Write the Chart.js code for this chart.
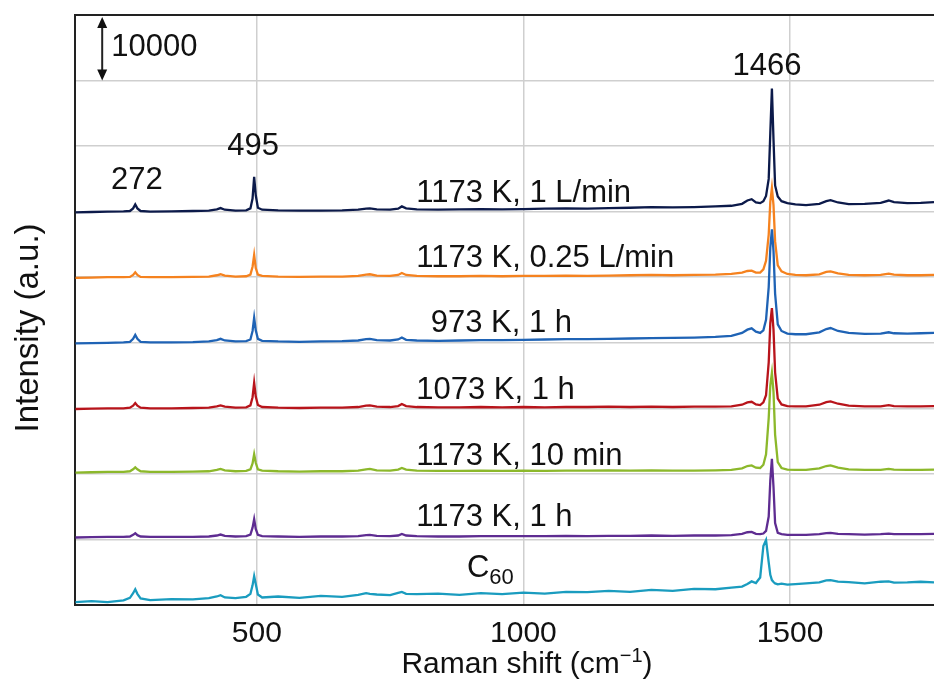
<!DOCTYPE html>
<html>
<head>
<meta charset="utf-8">
<script src="https://cdn.jsdelivr.net/npm/chart.js@4.4.1/dist/chart.umd.min.js"></script>
<style>
  html, body { margin: 0; padding: 0; background: #fff; overflow: hidden; }
  canvas { display: block; }
</style>
</head>
<body>
<canvas id="c" width="934" height="689"></canvas>
<script>
// ===== data (intensity in units of 1000 counts, spectra already stacked) =====
const shift = [160,190,220,250,262,268,272,276,282,300,
  340,380,410,425,432,440,460,480,488,492,
  495,498,502,510,540,580,620,660,690,705,
  712,725,750,765,772,780,800,840,880,920,
  960,1000,1040,1080,1120,1160,1200,1240,1280,1320,
  1360,1390,1410,1420,1428,1436,1444,1450,1455,1460,
  1463,1466,1469,1472,1477,1484,1495,1510,1530,1555,
  1568,1576,1590,1610,1640,1670,1685,1695,1720,1745,1770];

const s1173_1Lmin = [59.9,59.95,60.0,60.05,60.1,60.5,61.1,60.5,60.1,60.0,
  60.05,60.1,60.15,60.35,60.55,60.3,60.15,60.2,60.5,62.0,
  65.3,62.5,60.6,60.3,60.2,60.15,60.15,60.2,60.3,60.45,
  60.5,60.35,60.3,60.45,60.8,60.5,60.35,60.3,60.35,60.4,
  60.35,60.4,60.45,60.5,60.45,60.55,60.6,60.7,60.65,60.7,
  60.8,60.9,61.2,61.7,61.9,61.4,61.3,61.6,62.4,65.0,
  72.0,78.8,71.0,64.0,62.3,61.6,61.3,61.1,61.0,61.2,
  61.6,61.75,61.4,61.15,61.2,61.35,61.7,61.45,61.3,61.35,61.45];

const s1173_025Lmin = [49.9,49.95,50.0,50.0,50.05,50.35,50.75,50.35,50.05,50.0,
  50.0,50.05,50.1,50.3,50.45,50.25,50.1,50.15,50.4,51.6,
  53.4,51.4,50.4,50.2,50.1,50.05,50.1,50.1,50.2,50.4,
  50.45,50.25,50.2,50.35,50.65,50.35,50.2,50.15,50.15,50.2,
  50.15,50.2,50.2,50.25,50.2,50.25,50.3,50.35,50.3,50.35,
  50.4,50.5,50.7,50.95,51.0,50.7,50.7,51.2,52.5,56.5,
  61.5,63.6,61.0,55.5,51.8,50.9,50.5,50.35,50.3,50.45,
  50.8,50.9,50.6,50.35,50.3,50.35,50.55,50.4,50.3,50.3,50.35];

const s973_1h = [39.9,39.95,40.0,40.05,40.15,40.6,41.2,40.6,40.15,40.05,
  40.05,40.1,40.2,40.4,40.6,40.35,40.2,40.25,40.5,41.8,
  43.8,41.9,40.6,40.3,40.2,40.15,40.2,40.25,40.35,40.55,
  40.6,40.4,40.35,40.5,40.8,40.45,40.35,40.3,40.35,40.4,
  40.4,40.45,40.5,40.55,40.55,40.6,40.65,40.7,40.75,40.8,
  40.9,41.05,41.5,42.0,42.2,41.7,41.5,41.9,43.5,48.5,
  54.5,57.3,54.0,47.5,42.8,41.8,41.4,41.3,41.3,41.6,
  42.1,42.25,41.8,41.5,41.35,41.4,41.6,41.45,41.4,41.45,41.5];

const s1073_1h = [29.9,29.95,30.0,30.0,30.1,30.4,30.8,30.4,30.1,30.0,
  30.0,30.05,30.1,30.3,30.45,30.25,30.1,30.15,30.45,31.7,
  33.9,31.8,30.5,30.2,30.1,30.05,30.1,30.1,30.2,30.4,
  30.45,30.25,30.2,30.35,30.65,30.35,30.2,30.15,30.15,30.2,
  30.15,30.2,30.15,30.2,30.2,30.25,30.2,30.25,30.2,30.25,
  30.25,30.3,30.55,30.9,31.0,30.6,30.5,30.9,32.0,37.0,
  43.0,45.3,42.0,35.5,31.5,30.6,30.35,30.3,30.3,30.55,
  30.95,31.05,30.7,30.4,30.3,30.3,30.5,30.35,30.3,30.3,30.35];

const s1173_10min = [20.2,20.25,20.3,20.3,20.4,20.7,21.0,20.7,20.4,20.3,
  20.3,20.35,20.4,20.6,20.75,20.55,20.4,20.45,20.7,21.6,
  23.0,21.7,20.7,20.5,20.4,20.35,20.4,20.4,20.5,20.7,
  20.75,20.55,20.5,20.65,20.9,20.65,20.5,20.45,20.45,20.5,
  20.45,20.5,20.45,20.5,20.5,20.55,20.5,20.55,20.5,20.5,
  20.55,20.6,20.85,21.2,21.3,20.95,20.9,21.4,23.0,28.5,
  33.5,35.4,32.5,26.0,21.8,20.9,20.65,20.6,20.6,20.85,
  21.2,21.3,20.95,20.7,20.6,20.6,20.75,20.65,20.6,20.6,20.65];

const s1173_1h = [10.3,10.35,10.4,10.4,10.45,10.7,10.95,10.65,10.45,10.4,
  10.4,10.4,10.45,10.6,10.75,10.55,10.45,10.5,10.75,11.8,
  13.1,11.6,10.7,10.5,10.45,10.4,10.45,10.45,10.5,10.65,
  10.7,10.55,10.5,10.6,10.85,10.6,10.5,10.45,10.45,10.5,
  10.5,10.5,10.5,10.55,10.5,10.55,10.55,10.6,10.55,10.6,
  10.6,10.65,10.85,11.1,11.15,10.85,10.8,10.9,11.3,13.5,
  19.0,22.3,18.0,12.5,11.0,10.8,10.7,10.7,10.7,10.8,
  10.95,11.0,10.85,10.8,10.75,10.8,10.9,10.8,10.8,10.8,10.85];

const sC60 = [0.45,0.6,0.45,0.7,1.1,1.8,2.4,1.7,1.0,0.75,
  0.9,0.85,1.05,1.3,1.5,1.15,1.05,1.25,1.7,3.0,
  4.4,3.2,1.6,1.15,1.3,1.1,1.4,1.25,1.55,1.8,
  1.7,1.6,1.5,1.85,2.0,1.7,1.65,1.75,1.55,1.8,
  1.65,1.9,1.75,2.0,1.95,2.15,2.0,2.3,2.15,2.45,
  2.4,2.65,2.8,3.2,3.6,3.35,4.2,9.0,9.9,6.5,
  4.6,3.8,3.5,3.3,3.15,3.25,3.1,3.2,3.3,3.45,
  3.75,3.8,3.55,3.5,3.3,3.55,3.6,3.4,3.45,3.55,3.45];

const xTicks = [500, 1000, 1500];

// bottom trace first so the lower spectra sit on top of the upper ones
const series = [
  { name: "C60",                 data: sC60,          color: "#1a9cbf" },
  { name: "1173 K, 1 h",         data: s1173_1h,      color: "#5e2c91" },
  { name: "1173 K, 10 min",      data: s1173_10min,   color: "#8cb82b" },
  { name: "1073 K, 1 h",         data: s1073_1h,      color: "#b8141b" },
  { name: "973 K, 1 h",          data: s973_1h,       color: "#1f63b5" },
  { name: "1173 K, 0.25 L/min",  data: s1173_025Lmin, color: "#f5821f" },
  { name: "1173 K, 1 L/min",     data: s1173_1Lmin,   color: "#0c1a4a" }
];

// text labels: [text, x (cm-1), y (k counts)]
const traceLabels = [
  ["1173 K, 1 L/min", 799, 62.8],
  ["1173 K, 0.25 L/min", 799, 52.8],
  ["973 K, 1 h", 826, 43.0],
  ["1073 K, 1 h", 799, 32.8],
  ["1173 K, 10 min", 799, 22.6],
  ["1173 K, 1 h", 799, 13.4]
];
const peakLabels = [["272", 275, 64.7], ["495", 493, 70.0], ["1466", 1457, 82.2]];

const FONT = "'Liberation Sans', Arial, Helvetica, sans-serif";

// ===== extra drawing: frame top, labels, scale bar, axis titles =====
const annotate = {
  id: "annotate",
  afterDatasetsDraw(chart) {
    const { ctx, chartArea: a, scales: { x, y } } = chart;
    ctx.save();
    // top frame line
    ctx.strokeStyle = "#222"; ctx.lineWidth = 2;
    ctx.beginPath(); ctx.moveTo(a.left, a.top); ctx.lineTo(a.right, a.top); ctx.stroke();

    ctx.fillStyle = "#111";
    ctx.textBaseline = "middle";
    ctx.font = "31px " + FONT;
    ctx.textAlign = "left";
    traceLabels.forEach(l => ctx.fillText(l[0], x.getPixelForValue(l[1]), y.getPixelForValue(l[2])));
    ctx.textAlign = "center";
    peakLabels.forEach(l => ctx.fillText(l[0], x.getPixelForValue(l[1]), y.getPixelForValue(l[2])));

    // C60 with subscript
    ctx.textAlign = "left";
    const cx = x.getPixelForValue(894), cy = y.getPixelForValue(5.6);
    ctx.fillText("C", cx, cy);
    const cw = ctx.measureText("C").width;
    ctx.font = "22px " + FONT;
    ctx.fillText("60", cx + cw, cy + 10);

    // scale bar 10000
    const bx = x.getPixelForValue(210);
    const b0 = y.getPixelForValue(80), b1 = y.getPixelForValue(89.7);
    ctx.lineWidth = 2;
    ctx.beginPath(); ctx.moveTo(bx, b0 - 8); ctx.lineTo(bx, b1 + 8); ctx.stroke();
    ctx.beginPath();
    ctx.moveTo(bx, b1); ctx.lineTo(bx - 5, b1 + 11); ctx.lineTo(bx + 5, b1 + 11); ctx.closePath();
    ctx.moveTo(bx, b0); ctx.lineTo(bx - 5, b0 - 11); ctx.lineTo(bx + 5, b0 - 11); ctx.closePath();
    ctx.fill();
    ctx.font = "31px " + FONT;
    ctx.fillText("10000", x.getPixelForValue(227), y.getPixelForValue(85.1));

    // x title with superscript
    ctx.textBaseline = "alphabetic";
    const t1 = "Raman shift (cm", t2 = "\u22121", t3 = ")";
    ctx.font = "30px " + FONT;
    const w1 = ctx.measureText(t1).width, w3 = ctx.measureText(t3).width;
    ctx.font = "20px " + FONT;
    const w2 = ctx.measureText(t2).width;
    let tx = 527 - (w1 + w2 + w3) / 2;
    const ty = 673;
    ctx.font = "30px " + FONT; ctx.fillText(t1, tx, ty); tx += w1;
    ctx.font = "20px " + FONT; ctx.fillText(t2, tx, ty - 11); tx += w2;
    ctx.font = "30px " + FONT; ctx.fillText(t3, tx, ty);

    // y title
    ctx.translate(29, 328);
    ctx.rotate(-Math.PI / 2);
    ctx.textAlign = "center"; ctx.textBaseline = "middle";
    ctx.font = "33px " + FONT;
    ctx.fillText("Intensity (a.u.)", 0, 0);
    ctx.restore();
  }
};

new Chart(document.getElementById("c"), {
  type: "line",
  data: {
    datasets: series.map(s => ({
      label: s.name,
      data: shift.map((v, i) => ({ x: v, y: s.data[i] })),
      borderColor: s.color,
      borderWidth: 2.3,
      pointRadius: 0,
      tension: 0,
      fill: false
    }))
  },
  options: {
    responsive: false,
    animation: false,
    layout: { padding: { top: 15, right: 0, left: 0, bottom: 0 } },
    plugins: { legend: { display: false }, tooltip: { enabled: false } },
    scales: {
      x: {
        type: "linear", min: 159, max: 1770,
        afterBuildTicks: s => { s.ticks = xTicks.map(v => ({ value: v })); },
        afterFit: s => { s.height = 84; },
        grid: { color: "#cfcfcf", lineWidth: 1.5, drawTicks: false },
        border: { color: "#222", width: 2 },
        ticks: {
          font: { size: 30, family: FONT }, color: "#111", padding: 11, maxRotation: 0,
          callback: v => String(v)
        }
      },
      y: {
        min: 0, max: 90,
        afterFit: s => { s.width = 75; },
        ticks: { display: false, stepSize: 10 },
        grid: { color: "#cfcfcf", lineWidth: 1.5, drawTicks: false },
        border: { color: "#222", width: 2 }
      }
    }
  },
  plugins: [annotate]
});
</script>
</body>
</html>
